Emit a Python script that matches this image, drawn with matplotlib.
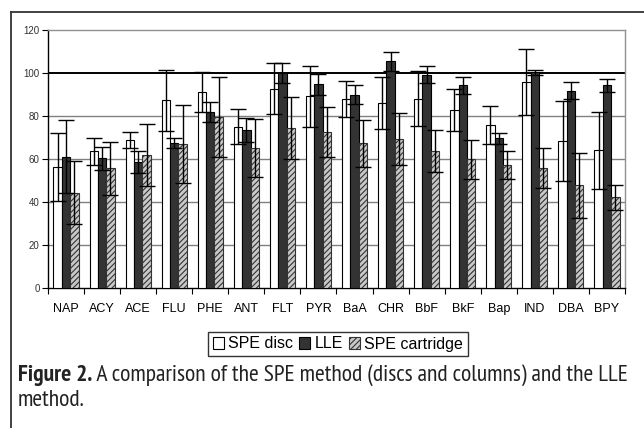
import numpy as np
import matplotlib
matplotlib.use("Agg")
from matplotlib import pyplot as plt
from matplotlib import font_manager
from matplotlib.lines import Line2D
from matplotlib.patches import Patch

plt.rcParams['font.family'] = ['Liberation Sans', 'DejaVu Sans']
plt.rcParams['hatch.linewidth'] = 0.8

compounds = ['NAP', 'ACY', 'ACE', 'FLU', 'PHE', 'ANT', 'FLT', 'PYR',
             'BaA', 'CHR', 'BbF', 'BkF', 'Bap', 'IND', 'DBA', 'BPY']

spe_disc = [56.3, 63.6, 68.7, 87.4, 91.3, 75.1, 92.7, 89.1,
            88.0, 86.0, 88.0, 82.7, 75.9, 95.8, 68.4, 64.0]
spe_disc_err = [15.8, 6.2, 3.7, 14.2, 9.3, 8.0, 12.0, 14.3,
                8.5, 12.0, 12.7, 9.8, 8.8, 15.5, 18.4, 18.0]

lle = [61.0, 60.3, 58.6, 67.3, 82.0, 73.6, 100.0, 94.7,
       89.9, 105.5, 99.3, 94.3, 69.7, 100.3, 91.8, 94.3]
lle_err = [17.0, 5.5, 5.3, 2.4, 4.7, 5.6, 4.7, 5.0,
           4.3, 4.4, 4.0, 4.0, 2.6, 1.2, 4.0, 3.0]

spe_cart = [44.4, 55.6, 61.9, 67.0, 79.5, 65.1, 74.5, 72.6,
            67.3, 69.3, 63.9, 59.8, 57.2, 55.6, 47.7, 42.2]
spe_cart_err = [14.6, 12.2, 14.4, 18.0, 18.7, 13.6, 14.3, 11.7,
                11.0, 12.0, 9.8, 8.9, 6.6, 9.3, 15.0, 5.8]

legend_labels = ['SPE disc', 'LLE', 'SPE cartridge']
caption_bold = 'Figure 2.'
caption_rest = ' A comparison of the SPE method (discs and columns) and the LLE'
caption_line2 = 'method.'

fig = plt.figure(figsize=(6.44, 4.28), dpi=100)
ax = fig.add_axes([0.0745, 0.3271, 0.896, 0.6028])

x = np.arange(len(compounds))
w = 0.232
err_kw = dict(ecolor='black', elinewidth=1.0, capsize=5.5, capthick=1.0)

# three bar series side by side
ax.bar(x - w, spe_disc, w, color='white', edgecolor='black', linewidth=0.8,
       yerr=spe_disc_err, error_kw=err_kw, zorder=3)
ax.bar(x, lle, w, color='#333333', edgecolor='black', linewidth=0.8,
       yerr=lle_err, error_kw=err_kw, zorder=3)
ax.bar(x + w, spe_cart, w, color='#c8c8c8', edgecolor='#333333', hatch='//////',
       linewidth=0.8, yerr=spe_cart_err, error_kw=err_kw, zorder=3)

ax.set_xlim(-0.5, len(compounds) - 0.5)
ax.set_ylim(0, 120)

# gridlines - the 100 line is black in the original
for g in [20, 40, 60, 80]:
    ax.axhline(g, color='#808080', linewidth=1.0, zorder=1)
ax.axhline(100, color='black', linewidth=1.4, zorder=1)

ax.set_yticks([0, 20, 40, 60, 80, 100, 120])
ax.tick_params(axis='y', direction='out', length=4, width=0.8, labelsize=7,
               pad=2, labelcolor='#333333')
ax.set_xticks(x)
ax.set_xticklabels(compounds)
ax.tick_params(axis='x', which='major', length=0, labelsize=9, pad=11)
ax.set_xticks(np.arange(-0.5, len(compounds)), minor=True)
ax.tick_params(axis='x', which='minor', direction='out', length=4, width=0.8)

ax.spines['left'].set_color('black')
ax.spines['bottom'].set_color('black')
ax.spines['top'].set_color('#909090')
ax.spines['right'].set_color('#909090')
for s in ax.spines.values():
    s.set_linewidth(1.0)

handles = [Patch(facecolor='white', edgecolor='black', linewidth=0.8),
           Patch(facecolor='#333333', edgecolor='black', linewidth=0.8),
           Patch(facecolor='#c8c8c8', edgecolor='#333333', hatch='//////', linewidth=0.8)]
leg = fig.legend(handles, legend_labels, ncol=3, loc='center',
                 bbox_to_anchor=(338 / 644, 1 - 344 / 428), fontsize=11.5,
                 frameon=True, fancybox=False, handlelength=0.7, handleheight=0.7,
                 handletextpad=0.25, columnspacing=0.4, borderpad=0.3,
                 borderaxespad=0)
leg.get_frame().set_edgecolor('black')
leg.get_frame().set_linewidth(1.0)

# caption font: want something narrow, take the first one installed
names = set(f.name for f in font_manager.fontManager.ttflist)
cap_font = 'DejaVu Sans'
for nm in ['PT Sans Narrow', 'Fira Sans Condensed', 'Roboto Condensed',
           'Liberation Sans Narrow', 'DejaVu Sans Condensed']:
    if nm in names:
        cap_font = nm
        break
cap_size = 14
base1 = 1 - 381 / 428
base2 = 1 - 406 / 428

t1 = fig.text(18 / 644, base1, caption_bold, fontsize=cap_size, fontweight='bold',
              family=cap_font, color='#222222', va='baseline')
t2 = fig.text(0, base1, caption_rest, fontsize=cap_size,
              family=cap_font, color='#222222', va='baseline')
t3 = fig.text(18 / 644, base2, caption_line2, fontsize=cap_size,
              family=cap_font, color='#222222', va='baseline')

# size the caption so the first line runs from x=18 to about x=638
r = fig.canvas.get_renderer()
for i in range(4):
    wtot = t1.get_window_extent(renderer=r).width + t2.get_window_extent(renderer=r).width
    cap_size = min(17, cap_size * 618 / wtot)
    for t in (t1, t2, t3):
        t.set_fontsize(cap_size)
bb = t1.get_window_extent(renderer=r)
t2.set_x(bb.x1 / fig.bbox.width)

# outer frame (only top and left edges show)
fig.add_artist(Line2D([11 / 644, 1], [1 - 12 / 428, 1 - 12 / 428],
                      transform=fig.transFigure, color='#333333', linewidth=1.3))
fig.add_artist(Line2D([11 / 644, 11 / 644], [0, 1 - 12 / 428],
                      transform=fig.transFigure, color='#333333', linewidth=1.3))

fig.savefig('out.png', dpi=100)
